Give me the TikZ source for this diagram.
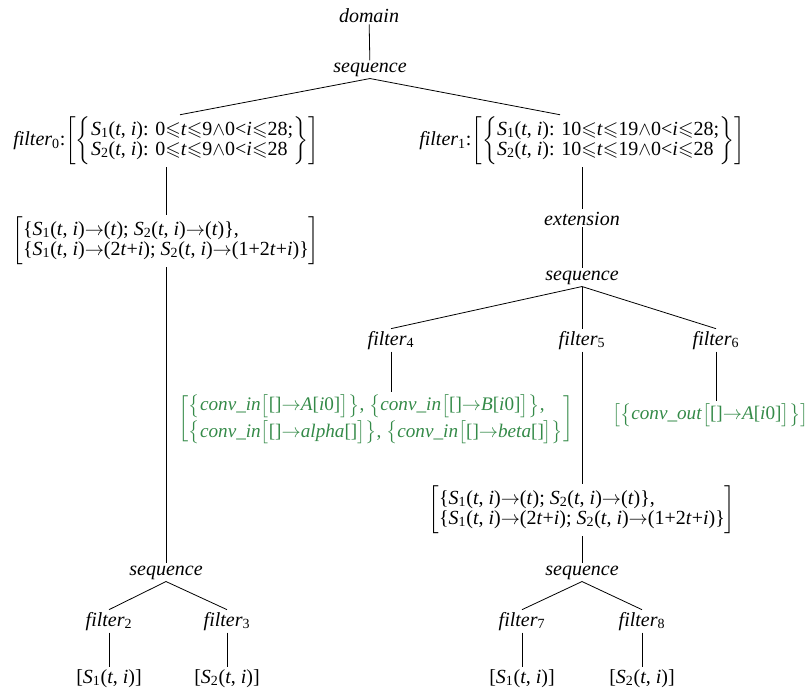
\documentclass[tikz,border=0pt]{standalone}
\usepackage{amsmath, amssymb}
\usepackage{fontspec}
\setmainfont{Liberation Serif}
\usepackage{xcolor}
\usepackage{tikz}
\usetikzlibrary{calc}

\definecolor{convgreen}{RGB}{52,138,72}

\newcommand{\Sti}[1]{\textit{S}\textsubscript{#1}(\textit{t}, \textit{i})}
\newcommand{\lsl}{\ensuremath{\leqslant}}
\newcommand{\tto}{\ensuremath{\rightarrow}}
\newcommand{\wed}{\ensuremath{\wedge}}
\newcommand{\flt}[1]{\textit{filter}\textsubscript{#1}}
\newcommand{\cin}[1]{$\bigl\{$\textit{conv\_in\/}$\bigl[$[]\tto#1$\bigr]\bigr\}$}

\begin{document}
\begin{tikzpicture}[
  x=0.75pt, y=-0.75pt,
  font=\fontsize{15}{15}\selectfont,
  every node/.style={inner sep=1.5pt},
  word/.style={anchor=base},
  block/.style={anchor=center},
  conv/.style={anchor=center, text=convgreen, font=\fontsize{14.4}{15.5}\selectfont},
  edge/.style={line width=0.6pt}
]
\useasboundingbox (0,0) rectangle (812,690);

% Nodes
\node[word] (dom) at (369,22) {\textit{domain}};
\node[word] (seq0) at (370,72) {\textit{sequence}};

\node[block] (f0) at (166,141) {\flt{0}:$\left[\left\{\begin{tabular}{@{}l@{}}\Sti{1}: 0\lsl\textit{t}\lsl9\wed0<\textit{i}\lsl28;\\ \Sti{2}: 0\lsl\textit{t}\lsl9\wed0<\textit{i}\lsl28\end{tabular}\right\}\right]$};
\node[block] (f1) at (582,141) {\flt{1}:$\left[\left\{\begin{tabular}{@{}l@{}}\Sti{1}: 10\lsl\textit{t}\lsl19\wed0<\textit{i}\lsl28;\\ \Sti{2}: 10\lsl\textit{t}\lsl19\wed0<\textit{i}\lsl28\end{tabular}\right\}\right]$};

\node[block] (m1) at (166,241) {$\left[\begin{tabular}{@{}l@{}}\{\Sti{1}\tto(\textit{t}); \Sti{2}\tto(\textit{t})\},\\ \{\Sti{1}\tto(2\textit{t}+\textit{i}); \Sti{2}\tto(1+2\textit{t}+\textit{i})\}\end{tabular}\right]$};

\node[word] (ext) at (582,225) {\textit{extension}};
\node[word] (seq1) at (582,280) {\textit{sequence}};

\node[word] (f4) at (391,345) {\flt{4}};
\node[word] (f5) at (582,345) {\flt{5}};
\node[word] (f6) at (716,345) {\flt{6}};

\node[conv] (g4) at (376,419) {$\left[\begin{tabular}{@{}l@{}}\cin{\textit{A}[\textit{i}0]}, \cin{\textit{B}[\textit{i}0]},\\[3pt] \cin{\textit{alpha}[]}, \cin{\textit{beta}[]}\end{tabular}\right]$};
\node[conv, anchor=east] (g6) at (811,415) {$\left[\begin{tabular}{@{}l@{}}$\bigl\{$\textit{conv\_out\/}$\bigl[$[]\tto\textit{A}[\textit{i}0]$\bigr]\bigr\}$\end{tabular}\right]$};

\node[block] (m2) at (582,510) {$\left[\begin{tabular}{@{}l@{}}\{\Sti{1}\tto(\textit{t}); \Sti{2}\tto(\textit{t})\},\\ \{\Sti{1}\tto(2\textit{t}+\textit{i}); \Sti{2}\tto(1+2\textit{t}+\textit{i})\}\end{tabular}\right]$};

\node[word] (seq2) at (166,575) {\textit{sequence}};
\node[word] (seq3) at (582,575) {\textit{sequence}};

\node[word] (f2) at (109,626) {\flt{2}};
\node[word] (f3) at (227,626) {\flt{3}};
\node[word] (f7) at (522,626) {\flt{7}};
\node[word] (f8) at (642,626) {\flt{8}};

\node[word] (l2) at (109,683) {[\Sti{1}]};
\node[word] (l3) at (227,683) {[\Sti{2}]};
\node[word] (l7) at (522,683) {[\Sti{1}]};
\node[word] (l8) at (642,683) {[\Sti{2}]};

% Pointers
\draw[edge] (dom) -- (seq0);
\draw[edge] (seq0.south) -- ($(f0.north)+(14,0)$);
\draw[edge] (seq0.south) -- ($(f1.north)+(-22,0)$);
\draw[edge] (f0) -- (m1);
\draw[edge] (f1) -- (ext);
\draw[edge] (ext) -- (seq1);
\draw[edge] (seq1.south) -- (f4.north);
\draw[edge] (seq1) -- (f5);
\draw[edge] (seq1.south) -- (f6.north);
\draw[edge] (f4) -- (f4 |- g4.north);
\draw[edge] (f6) -- (f6 |- g6.north);
\draw[edge] (f5) -- (m2);
\draw[edge] (m2) -- (seq3);
\draw[edge] (m1) -- (seq2);
\draw[edge] (seq2.south) -- (f2.north);
\draw[edge] (seq2.south) -- (f3.north);
\draw[edge] (seq3.south) -- (f7.north);
\draw[edge] (seq3.south) -- (f8.north);
\draw[edge] (f2) -- (l2);
\draw[edge] (f3) -- (l3);
\draw[edge] (f7) -- (l7);
\draw[edge] (f8) -- (l8);

\end{tikzpicture}
\end{document}
